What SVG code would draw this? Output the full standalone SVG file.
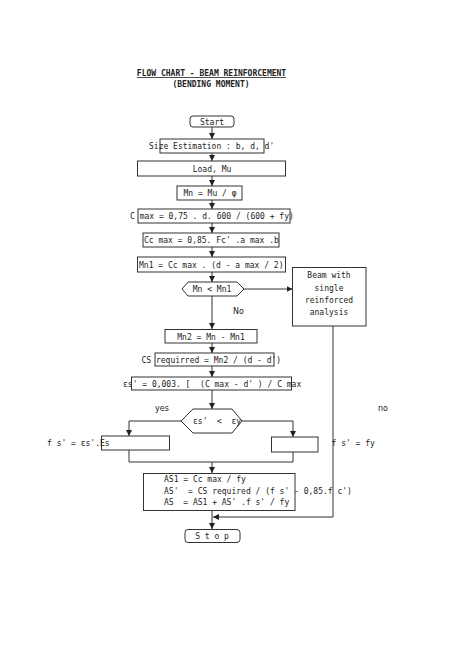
<svg xmlns="http://www.w3.org/2000/svg" width="474" height="670" viewBox="0 0 474 670">
<style>
text{font-family:"DejaVu Sans Mono","Liberation Mono",monospace;font-size:8px;fill:#222;}
.c{text-anchor:middle;}
.b{fill:#fff;stroke:#333;stroke-width:1;}
.l{fill:none;stroke:#333;stroke-width:1;}
.t{font-weight:bold;text-decoration:underline;}
</style>
<defs>
<marker id="a" viewBox="0 0 6 6" refX="6" refY="3" markerWidth="6" markerHeight="6" orient="auto" markerUnits="userSpaceOnUse">
<path d="M0,0 L6,3 L0,6 z" fill="#222"/>
</marker>
</defs>
<rect width="474" height="670" fill="#fff"/>
<text class="c t" x="211.5" y="76">FLOW CHART - BEAM REINFORCEMENT</text>
<text class="c" x="211" y="87" style="font-weight:bold">(BENDING MOMENT)</text>

<g id="connectors">
<path class="l" marker-end="url(#a)" d="M212,127V139"/>
<path class="l" marker-end="url(#a)" d="M212,153V161"/>
<path class="l" marker-end="url(#a)" d="M212,176V186"/>
<path class="l" marker-end="url(#a)" d="M212,200V209"/>
<path class="l" marker-end="url(#a)" d="M212,223V233"/>
<path class="l" marker-end="url(#a)" d="M212,247V257"/>
<path class="l" marker-end="url(#a)" d="M212,272V282"/>
<path class="l" marker-end="url(#a)" d="M212,296V329"/>
<path class="l" marker-end="url(#a)" d="M212,343V353"/>
<path class="l" marker-end="url(#a)" d="M212,366V377"/>
<path class="l" marker-end="url(#a)" d="M212,390V409"/>
<path class="l" marker-end="url(#a)" d="M244,289H292.5"/>
<path class="l" marker-end="url(#a)" d="M333,326V517H213"/>
<path class="l" marker-end="url(#a)" d="M181,421H129V436"/>
<path class="l" marker-end="url(#a)" d="M242,421H293V437"/>
<path class="l" d="M129,450V462H293V452"/>
<path class="l" marker-end="url(#a)" d="M212,462V473"/>
<path class="l" marker-end="url(#a)" d="M212,510V529"/>
</g>

<g id="start"><rect class="b" x="190" y="116" width="44" height="11" rx="3"/><text class="c" x="212" y="124.5">Start</text></g>
<g id="size"><rect class="b" x="160" y="139" width="104" height="14"/><text x="149" y="149">Size Estimation : b, d, d'</text></g>
<g id="load"><rect class="b" x="137.5" y="161" width="148" height="15"/><text class="c" x="212" y="171.5">Load, Mu</text></g>
<g id="mn"><rect class="b" x="177" y="186" width="65" height="14"/><text class="c" x="210" y="196">Mn = Mu / φ</text></g>
<g id="cmax"><rect class="b" x="138" y="209" width="152" height="14"/><text x="130" y="219">C max = 0,75 . d. 600 / (600 + fy)</text></g>
<g id="ccmax"><rect class="b" x="143" y="233" width="136" height="14"/><text x="144" y="243">Cc max = 0,85. Fc' .a max .b</text></g>
<g id="mn1"><rect class="b" x="137.5" y="257" width="148" height="15"/><text x="139" y="267.5">Mn1 = Cc max . (d - a max / 2)</text></g>
<g id="dec1"><polygon class="b" points="182,289 188,282 237,282 244,289 237,296 188,296"/><text class="c" x="212" y="292">Mn &lt; Mn1</text></g>
<g id="beam"><rect class="b" x="292.5" y="267.5" width="73.5" height="58.5"/>
<text class="c" x="329" y="278">Beam with</text><text class="c" x="329" y="290.5">single</text><text class="c" x="329" y="303">reinforced</text><text class="c" x="329" y="315">analysis</text></g>
<text x="233" y="314" style="font-family:'DejaVu Sans',sans-serif">No</text>
<g id="mn2"><rect class="b" x="165" y="329.5" width="92" height="13.5"/><text class="c" x="211" y="339.5">Mn2 = Mn - Mn1</text></g>
<g id="cs"><rect class="b" x="155" y="353" width="119" height="13"/><text x="141.5" y="362.5">CS requirred = Mn2 / (d - d')</text></g>
<g id="eps"><rect class="b" x="131.5" y="377" width="160" height="13"/><text x="123" y="386.5" xml:space="preserve">εs' = 0,003. [  (C max - d' ) / C max</text></g>
<g id="dec2"><polygon class="b" points="181,421 193,409 232,409 242,421 232,433 193,433"/><text x="193" y="424" xml:space="preserve">εs'  &lt;  εy</text></g>
<text x="155" y="411" style="font-family:'DejaVu Sans',sans-serif">yes</text>
<text x="378" y="410.5" style="font-family:'DejaVu Sans',sans-serif">no</text>
<g id="fsleft"><rect class="b" x="101.5" y="436" width="68" height="14"/><text x="47" y="446">f s' = εs'.Es</text></g>
<g id="fsright"><rect class="b" x="271.5" y="437" width="46.5" height="15"/><text x="331.5" y="446">f s' = fy</text></g>
<g id="as"><rect class="b" x="143.5" y="473.5" width="151.5" height="37"/>
<text x="164" y="482">AS1 = Cc max / fy</text>
<text x="164" y="494" xml:space="preserve">AS'  = CS required / (f s' - 0,85.f c')</text>
<text x="164" y="505" xml:space="preserve">AS  = AS1 + AS' .f s' / fy</text></g>
<g id="stop"><rect class="b" x="185" y="529.5" width="55" height="13" rx="3"/><text class="c" x="212" y="538.5">S t o p</text></g>
</svg>
